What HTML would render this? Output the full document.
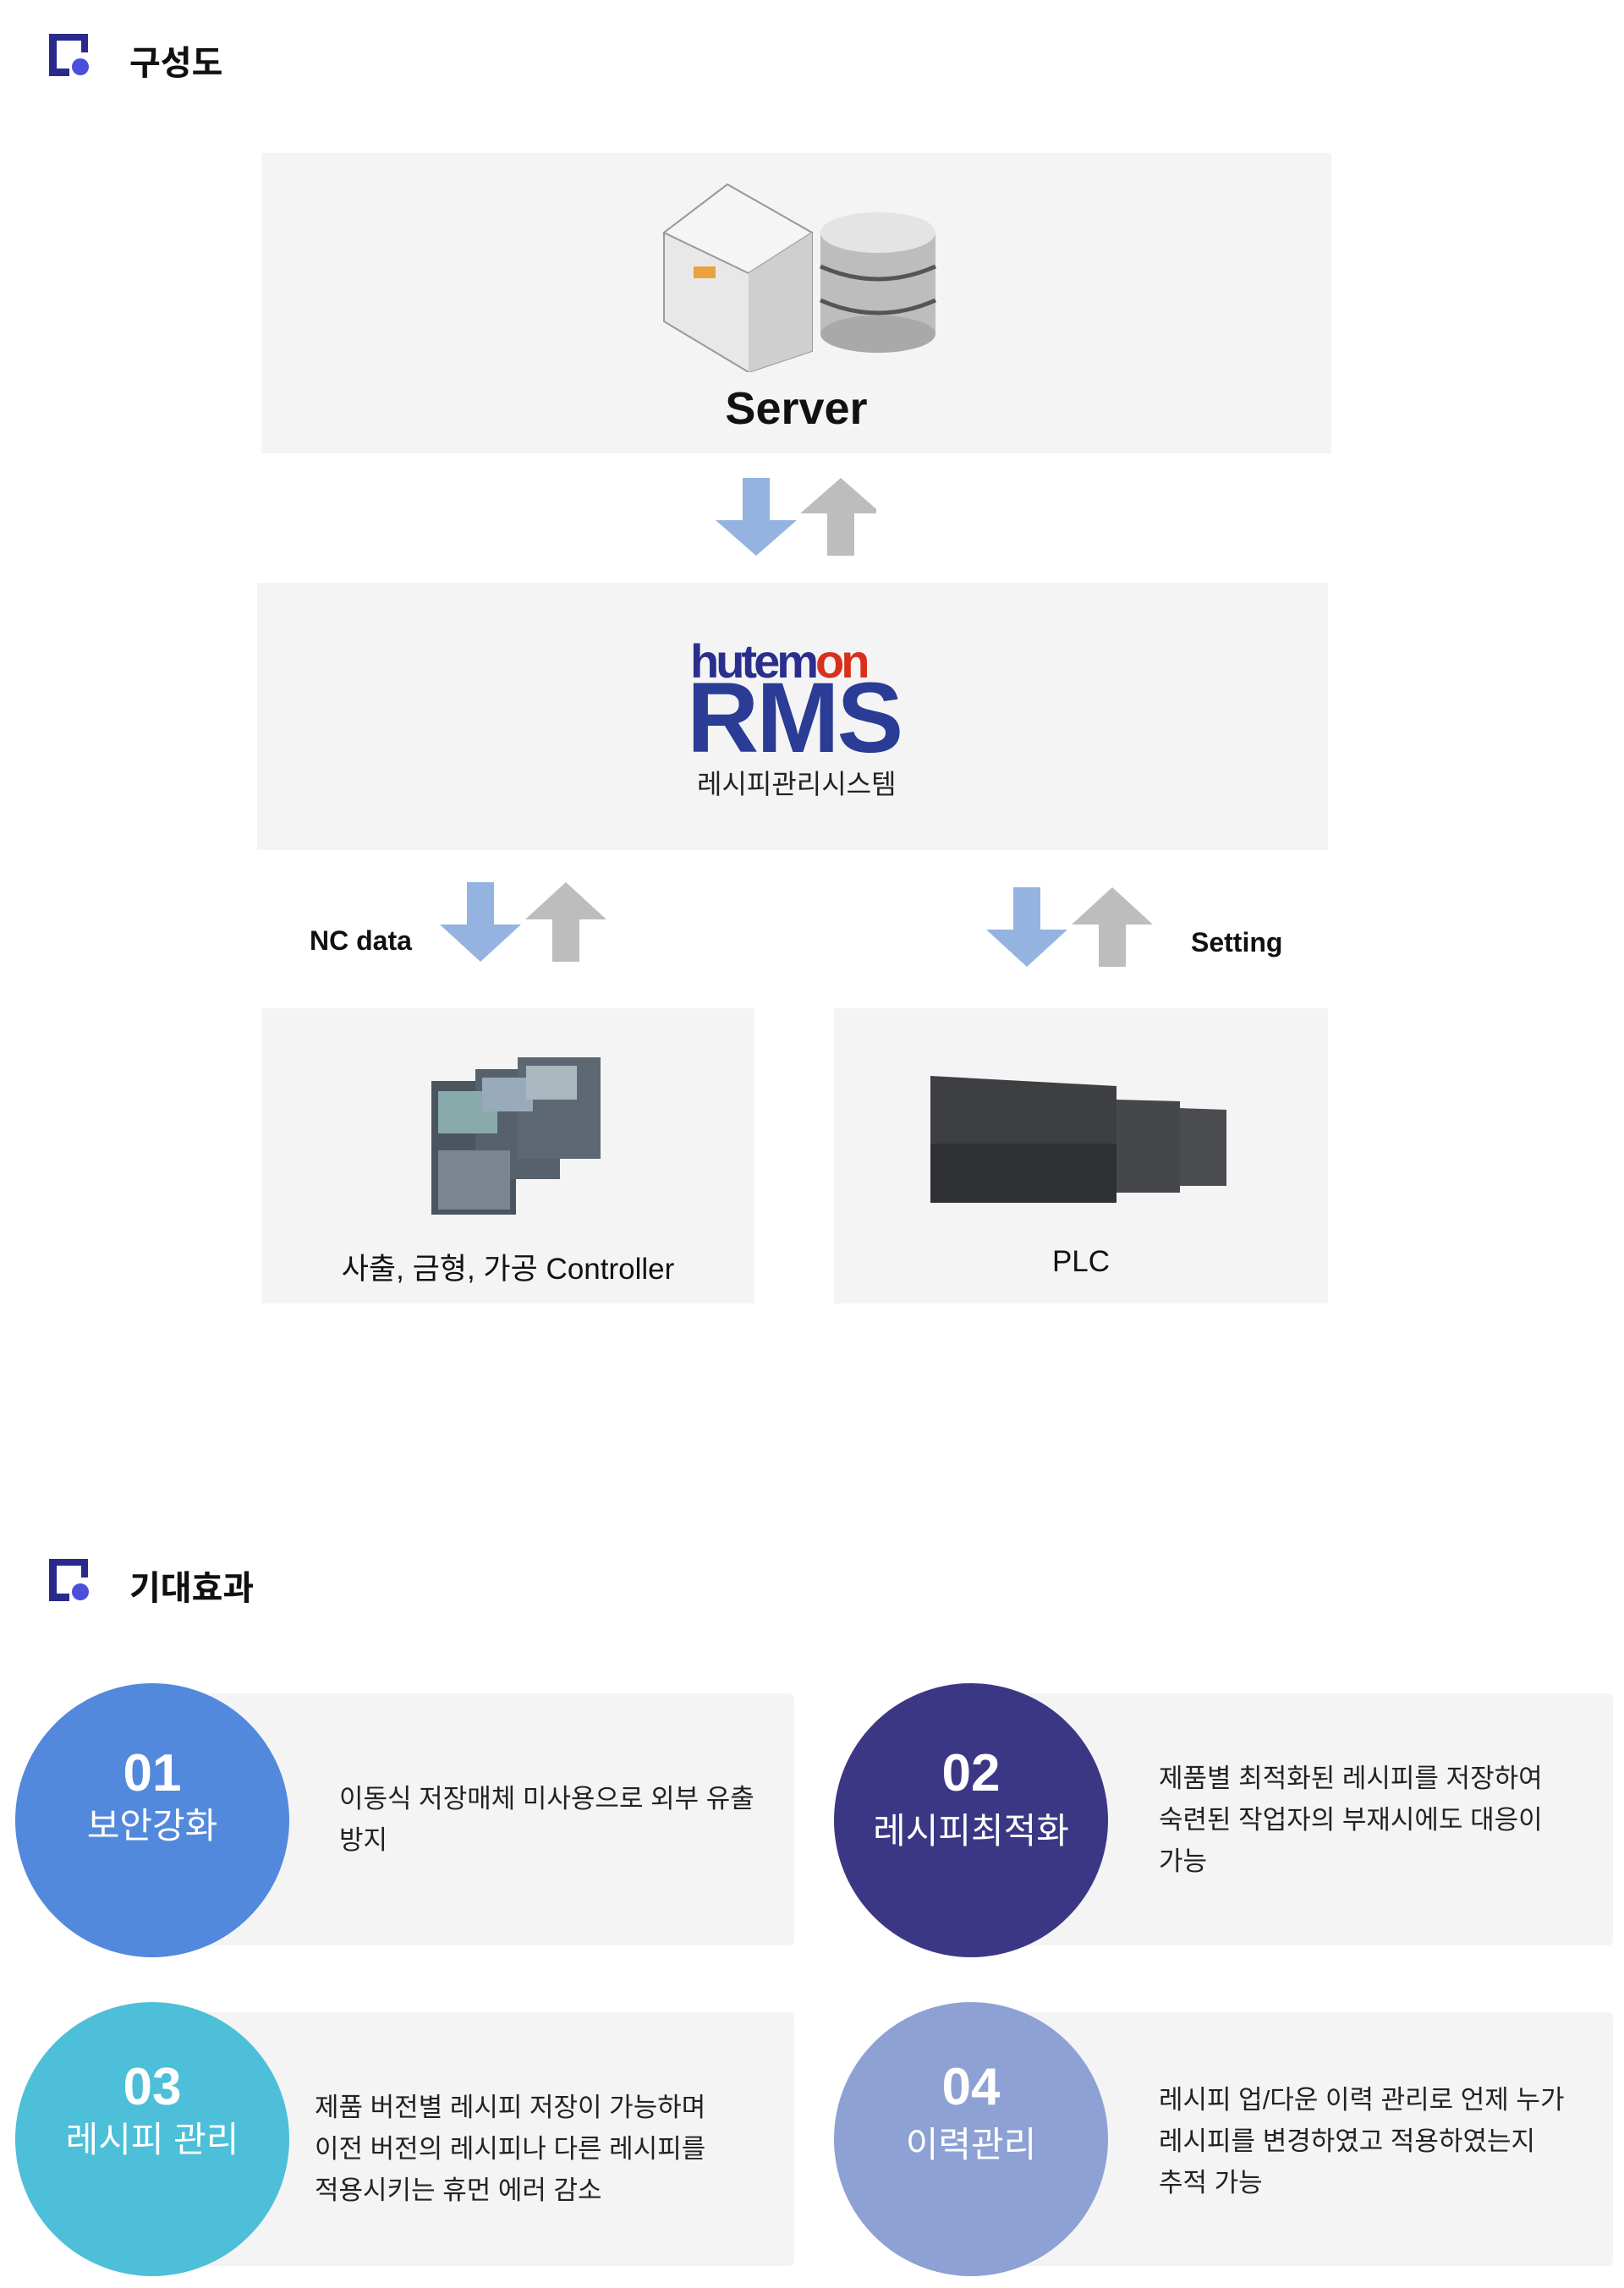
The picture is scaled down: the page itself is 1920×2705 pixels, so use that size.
<!DOCTYPE html>
<html><head><meta charset="utf-8"><style>
*{margin:0;padding:0;box-sizing:border-box}
body{width:1920px;height:2705px;background:#fff;position:relative;overflow:hidden;font-family:"Liberation Sans","Noto Sans CJK KR",sans-serif;color:#111}
.a{position:absolute}
.box{position:absolute;background:#f4f4f4}
.h{font-size:40px;font-weight:bold;}
.circ{position:absolute;width:324px;height:324px;border-radius:50%;color:#fff;text-align:center}
.circ .n{font-size:62px;font-weight:bold;margin-top:72px;line-height:70px}
.circ .t{font-size:42px;line-height:54px}
.desc{position:absolute;font-size:31px;line-height:49px;color:#222}
</style></head><body>
<svg class="a" style="left:58px;top:40px" width="48" height="50" viewBox="0 0 48 50"><path d="M0 0H46V22H38V8H9V41H24V50H0Z" fill="#2a2a8c"/><circle cx="37" cy="39" r="10" fill="#4b4fdc"/></svg>
<div class="a h" style="left:153px;top:42px">구성도</div>

<div class="box" style="left:309px;top:181px;width:1265px;height:355px"></div>
<svg class="a" style="left:780px;top:215px" width="340" height="225" viewBox="0 0 340 225">
<polygon points="5,60 80,3 180,60 180,200 105,225 5,165" fill="#e8e8e8" stroke="#999" stroke-width="2"/>
<polygon points="5,60 80,3 180,60 105,108" fill="#f5f5f5" stroke="#999" stroke-width="2"/>
<polygon points="105,108 180,60 180,200 105,225" fill="#cfcfcf"/>
<rect x="40" y="100" width="26" height="14" fill="#e9a33d"/>
<ellipse cx="258" cy="60" rx="68" ry="24" fill="#d8d8d8"/>
<rect x="190" y="60" width="136" height="120" fill="#bdbdbd"/>
<ellipse cx="258" cy="180" rx="68" ry="22" fill="#a9a9a9"/>
<ellipse cx="258" cy="60" rx="68" ry="24" fill="#e4e4e4"/>
<path d="M190 100 Q258 130 326 100 M190 140 Q258 170 326 140" stroke="#555" stroke-width="5" fill="none"/>
</svg>
<div class="a" style="left:309px;width:1265px;top:452px;text-align:center;font-size:54px;font-weight:bold">Server</div>

<svg class="a" style="left:846px;top:565px" width="190" height="95">
<polygon points="20,0 52,0 52,50 84,50 36,92 -12,50 20,50" fill="#94b3e0" transform="translate(12,0)"/>
<polygon points="120,92 152,92 152,42 184,42 136,0 88,42 120,42" fill="#bdbdbd" transform="translate(12,0)"/>
</svg>

<div class="box" style="left:304px;top:689px;width:1266px;height:316px"></div>
<div class="a" style="left:816px;top:752px;font-size:56px;line-height:60px;font-weight:bold;letter-spacing:-4px;color:#2a2f8e">hutem<span style="color:#d9301c">on</span></div>
<div class="a" style="left:812px;top:790px;font-size:118px;line-height:118px;font-weight:900;color:#2a3c96;letter-spacing:-3px">RMS</div>
<div class="a" style="left:824px;top:902px;font-size:32px;color:#222">레시피관리시스템</div>

<svg class="a" style="left:508px;top:1043px" width="210" height="100">
<polygon points="32,0 64,0 64,50 96,50 48,94 0,50 32,50" fill="#94b3e0" transform="translate(12,0)"/>
<polygon points="133,94 165,94 165,44 197,44 149,0 101,44 133,44" fill="#bdbdbd" transform="translate(12,0)"/>
</svg>
<svg class="a" style="left:1154px;top:1049px" width="210" height="100">
<polygon points="32,0 64,0 64,50 96,50 48,94 0,50 32,50" fill="#94b3e0" transform="translate(12,0)"/>
<polygon points="133,94 165,94 165,44 197,44 149,0 101,44 133,44" fill="#bdbdbd" transform="translate(12,0)"/>
</svg>
<div class="a" style="left:366px;top:1094px;font-size:32px;font-weight:bold">NC data</div>
<div class="a" style="left:1408px;top:1096px;font-size:32px;font-weight:bold">Setting</div>

<div class="box" style="left:309px;top:1192px;width:583px;height:349px"></div>
<div class="box" style="left:986px;top:1192px;width:584px;height:349px"></div>
<svg class="a" style="left:500px;top:1250px" width="215" height="190">
<rect x="10" y="28" width="100" height="158" fill="#4a5560"/>
<rect x="62" y="14" width="100" height="130" fill="#56616c"/>
<rect x="112" y="0" width="98" height="120" fill="#5e6873"/>
<rect x="18" y="40" width="70" height="50" fill="#8aa"/>
<rect x="70" y="24" width="60" height="40" fill="#9ab"/>
<rect x="122" y="10" width="60" height="40" fill="#aab8c0"/>
<rect x="18" y="110" width="85" height="70" fill="#7a8590"/>
</svg>
<svg class="a" style="left:1095px;top:1262px" width="360" height="160">
<polygon points="5,10 225,22 225,160 5,160" fill="#3d3f42"/>
<polygon points="225,38 300,40 300,148 225,148" fill="#45474a"/>
<polygon points="300,48 355,50 355,140 300,140" fill="#4a4c50"/>
<rect x="5" y="90" width="220" height="70" fill="#2f3134"/>
</svg>
<div class="a" style="left:309px;width:583px;top:1472px;text-align:center;font-size:35px">사출, 금형, 가공 Controller</div>
<div class="a" style="left:986px;width:584px;top:1472px;text-align:center;font-size:35px">PLC</div>

<svg class="a" style="left:58px;top:1843px" width="48" height="50" viewBox="0 0 48 50"><path d="M0 0H46V22H38V8H9V41H24V50H0Z" fill="#2a2a8c"/><circle cx="37" cy="39" r="10" fill="#4b4fdc"/></svg>
<div class="a h" style="left:153px;top:1845px">기대효과</div>

<div class="box" style="left:180px;top:2002px;width:759px;height:298px;border-radius:6px"></div>
<div class="box" style="left:1148px;top:2002px;width:759px;height:298px;border-radius:6px"></div>
<div class="box" style="left:180px;top:2379px;width:759px;height:300px;border-radius:6px"></div>
<div class="box" style="left:1148px;top:2379px;width:759px;height:300px;border-radius:6px"></div>

<div class="circ" style="left:18px;top:1990px;background:#5389dd"><div class="n">01</div><div class="t">보안강화</div></div>
<div class="circ" style="left:986px;top:1990px;background:#3c3785"><div class="n">02</div><div class="t" style="margin-top:6px">레시피최적화</div></div>
<div class="circ" style="left:18px;top:2367px;background:#4dbfd8"><div class="n" style="margin-top:66px">03</div><div class="t">레시피 관리</div></div>
<div class="circ" style="left:986px;top:2367px;background:#8ea1d4"><div class="n" style="margin-top:66px">04</div><div class="t" style="margin-top:6px">이력관리</div></div>

<div class="desc" style="left:401px;top:2102px">이동식 저장매체 미사용으로 외부 유출<br>방지</div>
<div class="desc" style="left:1370px;top:2078px">제품별 최적화된 레시피를 저장하여<br>숙련된 작업자의 부재시에도 대응이<br>가능</div>
<div class="desc" style="left:372px;top:2467px">제품 버전별 레시피 저장이 가능하며<br>이전 버전의 레시피나 다른 레시피를<br>적용시키는 휴먼 에러 감소</div>
<div class="desc" style="left:1370px;top:2458px">레시피 업/다운 이력 관리로 언제 누가<br>레시피를 변경하였고 적용하였는지<br>추적 가능</div>
</body></html>
